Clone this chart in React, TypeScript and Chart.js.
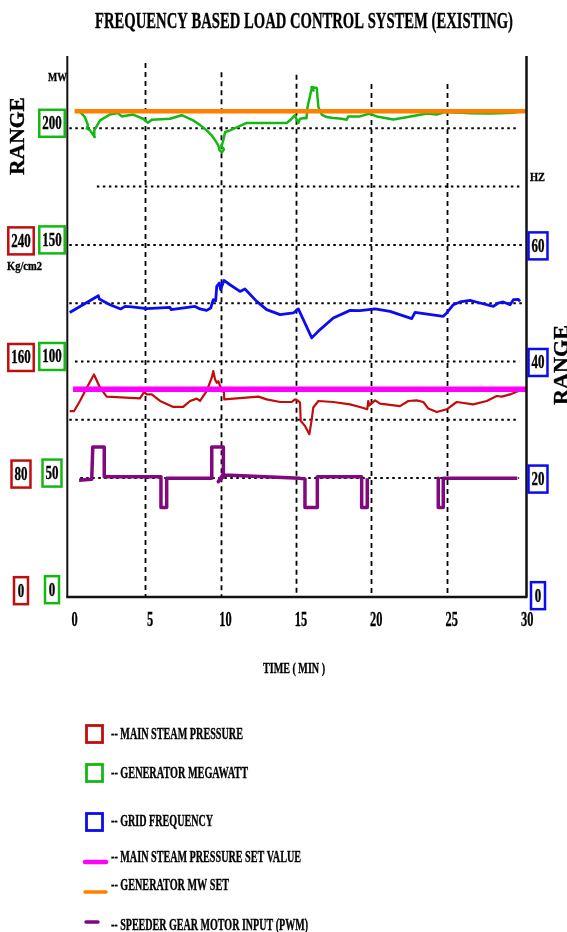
import React, { useEffect, useRef } from "react";
import { Chart, registerables } from "chart.js";

Chart.register(...registerables);

// ---------------- DATA ----------------
const TITLE = "FREQUENCY BASED LOAD CONTROL SYSTEM (EXISTING)";
const X_TITLE = "TIME ( MIN )";
const X_TICKS = [0, 5, 10, 15, 20, 25, 30];
const MW_TICKS = [0, 50, 100, 150, 200]; // generator MW (green boxes)
const P_TICKS = [0, 80, 160, 240]; // steam pressure Kg/cm2 (red boxes)
const HZ_TICKS = [0, 20, 40, 60]; // grid frequency Hz (blue boxes)
const V_GRID = [5, 10, 15, 20, 25];
const H_GRID = [50, 75, 100, 125, 150, 175, 200];

// [time (min), value]
const MW_SET: [number, number][] = [[0.32, 207.3], [30.29, 207.3]];
const P_SET: [number, number][] = [[0.22, 140.9], [30.26, 140.9]];

const GEN_MW: [number, number][] = [
  [0.68, 207.0], [1.01, 204.8], [1.21, 201.3], [1.13, 199.9], [1.35, 199.1], [1.66, 196.3],
  [1.63, 199.1], [2.01, 203.4], [2.67, 205.9], [3.2, 206.5], [3.45, 205.1], [4.2, 205.9],
  [4.87, 204.1], [5.19, 202.4], [5.44, 203.7], [5.77, 203.8], [6.65, 204.1], [7.43, 205.6],
  [8.18, 203.4], [8.6, 201.6], [9.08, 199.1], [9.38, 197.2], [9.64, 194.9], [9.85, 192.7],
  [9.93, 190.6], [10.1, 189.7], [10.23, 191.0], [10.07, 192.3], [10.2, 195.3], [10.3, 198.3],
  [10.63, 199.1], [11.74, 202.3], [14.39, 202.3], [14.72, 204.1], [14.94, 205.6], [15.05, 203.7],
  [15.16, 202.3], [15.27, 204.1], [15.6, 204.4], [15.7, 204.3], [15.77, 209.1], [15.94, 214.1],
  [16.05, 217.1], [16.17, 216.2], [16.03, 217.7], [16.38, 217.3], [16.42, 214.1], [16.49, 209.1],
  [16.71, 205.9], [17.04, 204.8], [17.48, 204.4], [18.04, 204.1], [18.37, 203.7], [18.47, 205.1],
  [19.25, 205.1], [19.87, 206.3], [20.36, 205.1], [21.46, 203.8], [22.79, 205.3], [23.67, 206.3],
  [24.34, 205.9], [24.89, 207.0], [26.66, 206.5], [27.87, 206.3], [29.42, 206.7], [29.97, 207.3],
];

const GRID_HZ: [number, number][] = [
  [0, 48.4], [1.9, 51.28], [1.96, 50.72], [2.67, 49.74], [3.38, 49.01], [3.67, 49.45],
  [4.11, 49.35], [5.11, 49.06], [6.65, 49.28], [6.72, 48.89], [8.31, 49.45], [8.64, 49.01],
  [9.08, 48.77], [9.35, 49.18], [9.52, 50.6], [9.68, 50.43], [9.75, 52.87], [9.92, 53.45],
  [10.01, 52.31], [10.08, 52.87], [10.23, 53.9], [10.63, 53.16], [11.29, 52.02], [11.62, 52.43],
  [12.4, 50.31], [13.06, 48.89], [13.95, 48.03], [14.83, 48.32], [15.16, 49.01], [16.05, 44.05],
  [16.6, 45.47], [17.48, 47.47], [18.59, 48.77], [19.25, 48.72], [20.25, 49.01], [21.24, 48.6],
  [22.68, 47.35], [22.9, 48.43], [24.77, 47.74], [25.0, 48.32], [25.44, 49.74], [25.88, 50.21],
  [26.54, 50.48], [27.21, 50.03], [28.09, 49.45], [28.42, 50.03], [28.75, 50.21], [29.2, 49.74],
  [29.42, 50.6], [29.75, 50.65], [29.86, 50.31],
];

const STEAM_P: [number, number][] = [
  [0, 126.0], [0.29, 126.0], [0.68, 132.9], [1.13, 142.0], [1.61, 151.1], [2.01, 142.0],
  [2.45, 135.9], [4.66, 134.7], [4.93, 139.0], [5.11, 137.4], [5.44, 137.4], [5.99, 132.9],
  [6.87, 128.8], [7.53, 128.8], [7.98, 132.9], [8.42, 134.5], [8.64, 132.9], [9.08, 139.7],
  [9.42, 148.9], [9.52, 153.4], [9.64, 147.7], [9.75, 145.4], [9.85, 146.5], [9.97, 143.1],
  [10.23, 138.6], [10.25, 134.0], [12.51, 135.9], [13.06, 134.0], [13.95, 132.2], [14.72, 132.2],
  [14.94, 134.0], [15.16, 132.9], [15.27, 131.8], [15.32, 119.2], [15.6, 115.8], [15.89, 110.1],
  [16.05, 120.3], [16.15, 128.4], [16.49, 132.9], [17.48, 132.2], [18.59, 130.6], [19.36, 128.4],
  [19.73, 127.2], [19.8, 132.9], [19.87, 129.9], [20.25, 133.3], [20.58, 131.1], [21.9, 129.4],
  [22.45, 132.9], [23.01, 133.3], [23.45, 132.2], [23.78, 127.7], [24.34, 125.3], [25.0, 127.2],
  [25.66, 132.2], [26.76, 130.6], [27.65, 132.9], [28.32, 136.3], [28.65, 135.9], [29.2, 137.4],
  [29.75, 139.7],
];

const PWM: [number, number | null][] = [
  [0.62, -0.07], [1.46, -0.04], [1.53, 1.04], [2.29, 1.04], [2.29, 0.04], [6.05, 0.04],
  [6.05, -0.98], [6.43, -0.98], [6.43, -0.01], [9.42, -0.01], [9.42, 1.04], [10.19, 1.04],
  [10.19, 0.14], [9.85, -0.12], [10.3, 0.1], [15.27, -0.01], [15.6, -0.03], [15.6, -0.98],
  [16.42, -0.98], [16.42, 0.04], [19.36, 0.04], [19.36, -0.98], [19.73, -0.98], [19.73, -0.01],
  [22.0, null], [24.44, -0.01], [24.44, -0.98], [24.77, -0.98], [24.77, -0.01], [29.68, -0.01],
];

const LEGEND_LABELS = [
  "-- MAIN STEAM PRESSURE",
  "-- GENERATOR MEGAWATT",
  "-- GRID FREQUENCY",
  "-- MAIN STEAM PRESSURE SET VALUE",
  "-- GENERATOR MW SET",
  "-- SPEEDER GEAR MOTOR INPUT (PWM)",
];

// ---------------- STYLE / LAYOUT ----------------
const W = 567;
const H = 932;
const AREA = { left: 67.3, right: 526.5, top: 56, bottom: 597 };
const X_MIN = -0.16;
const X_MAX = 30.29;
const MW_MIN = -1;
const MW_MAX = 231;
const P_PER_MW = 1.6;
const HZ_PER_MW = 0.4;
const PWM_MW_PER_UNIT = 12.86;
const PWM_ZERO_MW = 50;
// where each dotted horizontal grid line begins (time, min)
const H_GRID_START = [0.7, -0.1, 0.35, -0.1, -0.1, 1.8, -0.1];
const H_GRID_END = [29.8, 29.6, 29.8, 30.0, 30.0, 29.9, 29.8];
// top of each dashed vertical grid line (MW units)
const V_GRID_TOP = [228, 224, 223, 219, 219];

const C_RED = "#c20d0d";
const C_GREEN = "#14b814";
const C_BLUE = "#0c0cf0";
const C_MAGENTA = "#ff00ff";
const C_ORANGE = "#ff8000";
const C_PURPLE = "#82087f";
const FONT = '"Liberation Serif", "Times New Roman", "DejaVu Serif", serif';

const toXY = (arr: [number, number | null][]) => arr.map(([x, y]) => ({ x, y }));

function drawText(
  ctx: CanvasRenderingContext2D,
  s: string,
  x: number,
  y: number,
  size: number,
  o: { w?: number; sx?: number; align?: "left" | "center" | "right"; rot?: number; color?: string } = {}
) {
  ctx.save();
  ctx.font = `bold ${size}px ${FONT}`;
  const mw = ctx.measureText(s).width;
  const sx = o.w ? o.w / mw : o.sx ?? 1;
  ctx.translate(x, y);
  if (o.rot) ctx.rotate(o.rot);
  ctx.scale(sx, 1);
  ctx.fillStyle = o.color ?? "#000";
  ctx.strokeStyle = o.color ?? "#000";
  ctx.lineWidth = 0.35;
  ctx.textAlign = o.align ?? "center";
  ctx.textBaseline = "alphabetic";
  ctx.fillText(s, 0, size * 0.33);
  ctx.strokeText(s, 0, size * 0.33);
  ctx.restore();
  return mw * sx;
}

function boxLabel(ctx: CanvasRenderingContext2D, s: string, cx: number, cy: number, color: string) {
  const w = drawText(ctx, s, cx, cy, 18, { sx: 0.72 });
  const bw = Math.max(w + 6, 14);
  const bh = 27;
  ctx.save();
  ctx.strokeStyle = color;
  ctx.lineWidth = 2.5;
  ctx.strokeRect(cx - bw / 2, cy - bh / 2, bw, bh);
  ctx.restore();
}

const decorPlugin = {
  id: "decor",
  beforeDatasetsDraw(chart: any) {
    const ctx: CanvasRenderingContext2D = chart.ctx;
    const { x, yMW } = chart.scales;
    const a = chart.chartArea;
    ctx.save();
    ctx.strokeStyle = "#000";
    // vertical dashed grid
    ctx.lineWidth = 1.8;
    ctx.setLineDash([5, 4]);
    V_GRID.forEach((v, i) => {
      const px = Math.round(x.getPixelForValue(v)) + 0.5;
      ctx.beginPath();
      ctx.moveTo(px, yMW.getPixelForValue(V_GRID_TOP[i]));
      ctx.lineTo(px, a.bottom);
      ctx.stroke();
    });
    // horizontal dotted grid
    ctx.lineWidth = 2;
    ctx.setLineDash([2.5, 3.5]);
    H_GRID.forEach((v, i) => {
      const py = yMW.getPixelForValue(v);
      ctx.beginPath();
      ctx.moveTo(Math.max(a.left + 2, x.getPixelForValue(H_GRID_START[i])), py);
      ctx.lineTo(x.getPixelForValue(H_GRID_END[i]), py);
      ctx.stroke();
    });
    ctx.restore();
  },
  afterDraw(chart: any) {
    const ctx: CanvasRenderingContext2D = chart.ctx;
    const { x, yMW, yP, yHz } = chart.scales;
    const a = chart.chartArea;
    ctx.save();
    // frame (left, right, bottom)
    ctx.strokeStyle = "#111";
    ctx.lineWidth = 2;
    ctx.beginPath();
    ctx.moveTo(a.left, a.top);
    ctx.lineTo(a.left, a.bottom);
    ctx.stroke();
    ctx.lineWidth = 2.5;
    ctx.beginPath();
    ctx.moveTo(a.right, a.top);
    ctx.lineTo(a.right, a.bottom);
    ctx.moveTo(a.left - 1, a.bottom);
    ctx.lineTo(a.right + 1, a.bottom);
    ctx.stroke();
    ctx.restore();

    // title
    drawText(ctx, TITLE, 304, 20, 24, { w: 418 });

    // x tick labels
    X_TICKS.forEach((v) => {
      drawText(ctx, String(v), x.getPixelForValue(v) + 5, 619, 20, { sx: 0.62 });
    });
    drawText(ctx, X_TITLE, 294, 668, 15, { w: 62 });

    // left / right axis labels
    MW_TICKS.forEach((v) => boxLabel(ctx, String(v), 52, yMW.getPixelForValue(v) - 5, C_GREEN));
    P_TICKS.forEach((v) => boxLabel(ctx, String(v), 21, yP.getPixelForValue(v) - 4, C_RED));
    HZ_TICKS.forEach((v) => boxLabel(ctx, String(v), 538, yHz.getPixelForValue(v) + 1, C_BLUE));

    drawText(ctx, "MW", 57.5, 77, 13, { w: 19 });
    drawText(ctx, "Kg/cm2", 24.5, 266, 13, { w: 35 });
    drawText(ctx, "HZ", 537.5, 177, 13, { w: 15 });
    drawText(ctx, "RANGE", 17, 136, 20, { w: 78, rot: -Math.PI / 2 });
    drawText(ctx, "RANGE", 561, 365, 20, { w: 80, rot: -Math.PI / 2 });

    // legend
    const textY = [734, 773, 821, 857, 885, 925];
    const textW = [132, 137, 102, 190, 118, 197];
    const boxes = [
      { c: C_RED, y: 734 },
      { c: C_GREEN, y: 773 },
      { c: C_BLUE, y: 822 },
    ];
    ctx.save();
    boxes.forEach((b) => {
      ctx.strokeStyle = b.c;
      ctx.lineWidth = 2.8;
      ctx.strokeRect(86.5, b.y - 8.5, 16, 17);
    });
    const lines = [
      { c: C_MAGENTA, y: 862, w: 4.5, x1: 85, x2: 106 },
      { c: C_ORANGE, y: 892, w: 3.5, x1: 85, x2: 106 },
      { c: C_PURPLE, y: 922, w: 3.5, x1: 86, x2: 98 },
    ];
    ctx.lineCap = "round";
    lines.forEach((l) => {
      ctx.strokeStyle = l.c;
      ctx.lineWidth = l.w;
      ctx.beginPath();
      ctx.moveTo(l.x1, l.y);
      ctx.lineTo(l.x2, l.y);
      ctx.stroke();
    });
    ctx.restore();
    LEGEND_LABELS.forEach((s, i) => {
      drawText(ctx, s, 111, textY[i], 16, { w: textW[i], align: "left" });
    });
  },
};

export default function App() {
  const ref = useRef<HTMLCanvasElement | null>(null);

  useEffect(() => {
    if (!ref.current) return;
    const lineDs = (label: string, data: any[], color: string, width: number, yAxisID: string) => ({
      label,
      data,
      borderColor: color,
      backgroundColor: color,
      borderWidth: width,
      pointRadius: 0,
      tension: 0,
      fill: false,
      spanGaps: false,
      yAxisID,
      borderJoinStyle: "round" as const,
    });

    const chart = new Chart(ref.current, {
      type: "line",
      data: {
        datasets: [
          lineDs("GENERATOR MW SET", toXY(MW_SET), C_ORANGE, 4.5, "yMW"),
          lineDs("MAIN STEAM PRESSURE SET VALUE", toXY(P_SET), C_MAGENTA, 5.5, "yP"),
          lineDs("GENERATOR MEGAWATT", toXY(GEN_MW), C_GREEN, 2.5, "yMW"),
          lineDs("GRID FREQUENCY", toXY(GRID_HZ), C_BLUE, 2.8, "yHz"),
          lineDs("MAIN STEAM PRESSURE", toXY(STEAM_P), C_RED, 2.2, "yP"),
          lineDs("SPEEDER GEAR MOTOR INPUT (PWM)", toXY(PWM), C_PURPLE, 3.5, "yPWM"),
        ],
      },
      options: {
        responsive: false,
        animation: false,
        devicePixelRatio: 1,
        parsing: true,
        layout: {
          padding: {
            left: AREA.left,
            right: W - AREA.right,
            top: AREA.top,
            bottom: H - AREA.bottom,
          },
        },
        plugins: {
          legend: { display: false },
          title: { display: false },
          tooltip: { enabled: false },
        },
        scales: {
          x: { type: "linear", min: X_MIN, max: X_MAX, display: false },
          yMW: { type: "linear", min: MW_MIN, max: MW_MAX, display: false },
          yP: { type: "linear", min: MW_MIN * P_PER_MW, max: MW_MAX * P_PER_MW, display: false },
          yHz: { type: "linear", min: MW_MIN * HZ_PER_MW, max: MW_MAX * HZ_PER_MW, display: false },
          yPWM: {
            type: "linear",
            min: (MW_MIN - PWM_ZERO_MW) / PWM_MW_PER_UNIT,
            max: (MW_MAX - PWM_ZERO_MW) / PWM_MW_PER_UNIT,
            display: false,
          },
        },
      },
      plugins: [decorPlugin],
    });
    return () => chart.destroy();
  }, []);

  return (
    <div style={{ position: "absolute", left: 0, top: 0, width: W, height: H, background: "#fff" }}>
      <canvas ref={ref} width={W} height={H} style={{ display: "block" }} />
    </div>
  );
}
